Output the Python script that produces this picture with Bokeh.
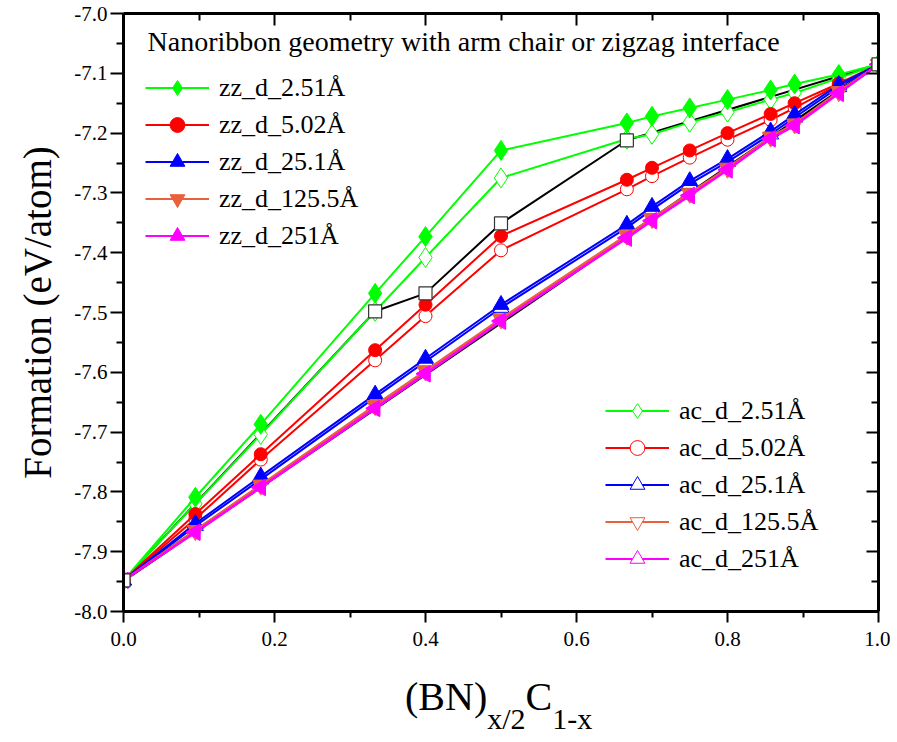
import numpy as np
from bokeh.plotting import figure
from bokeh.layouts import column
from bokeh.models import Range1d, LinearAxis, Legend, LegendItem, Label, FixedTicker, PrintfTickFormatter, Div
from bokeh.embed import file_html
from bokeh.resources import INLINE

# ---------------- data ----------------
x_frac = [0.0, 0.0952, 0.1818, 0.3333, 0.4, 0.5, 0.6667, 0.7, 0.75, 0.8, 0.8571, 0.8889, 0.9474, 1.0]

zz_2_51 = [-7.948, -7.809, -7.687, -7.468, -7.373, -7.229, -7.183, -7.172, -7.158, -7.144, -7.128, -7.118, -7.102, -7.085]
zz_5_02 = [-7.948, -7.837, -7.737, -7.563, -7.487, -7.372, -7.278, -7.258, -7.229, -7.200, -7.168, -7.150, -7.117, -7.085]
zz_25_1 = [-7.948, -7.853, -7.774, -7.637, -7.577, -7.487, -7.353, -7.323, -7.280, -7.243, -7.197, -7.169, -7.119, -7.085]
zz_125_5 = [-7.948, -7.864, -7.788, -7.655, -7.597, -7.510, -7.370, -7.342, -7.300, -7.258, -7.206, -7.184, -7.130, -7.085]
zz_251 = [-7.948, -7.867, -7.792, -7.660, -7.602, -7.514, -7.375, -7.346, -7.304, -7.261, -7.209, -7.187, -7.133, -7.085]

ac_2_51 = [-7.948, -7.820, -7.704, -7.498, -7.408, -7.275, -7.210, -7.202, -7.182, -7.165, -7.144, -7.133, -7.108, -7.085]
ac_5_02 = [-7.948, -7.845, -7.746, -7.580, -7.506, -7.396, -7.294, -7.272, -7.241, -7.211, -7.178, -7.158, -7.119, -7.085]
ac_25_1 = [-7.948, -7.857, -7.779, -7.642, -7.582, -7.492, -7.358, -7.328, -7.285, -7.248, -7.202, -7.174, -7.123, -7.085]
ac_125_5 = [-7.948, -7.866, -7.790, -7.657, -7.599, -7.512, -7.372, -7.344, -7.302, -7.260, -7.208, -7.186, -7.132, -7.085]
ac_251 = [-7.948, -7.868, -7.793, -7.661, -7.603, -7.515, -7.376, -7.347, -7.305, -7.262, -7.210, -7.188, -7.134, -7.085]

linear_x = [0.0, 1.0]
linear_y = [-7.948, -7.085]

sq_x = [0.0, 0.3333, 0.4, 0.5, 0.6667, 1.0]
sq_y = [-7.948, -7.498, -7.468, -7.351, -7.212, -7.085]

zz_labels = ["zz_d_2.51Å", "zz_d_5.02Å", "zz_d_25.1Å", "zz_d_125.5Å", "zz_d_251Å"]
ac_labels = ["ac_d_2.51Å", "ac_d_5.02Å", "ac_d_25.1Å", "ac_d_125.5Å", "ac_d_251Å"]
x_ticks = [0.0, 0.2, 0.4, 0.6, 0.8, 1.0]
x_minor = [0.1, 0.3, 0.5, 0.7, 0.9]
y_ticks = [-8.0, -7.9, -7.8, -7.7, -7.6, -7.5, -7.4, -7.3, -7.2, -7.1, -7.0]
y_minor = [-7.95, -7.85, -7.75, -7.65, -7.55, -7.45, -7.35, -7.25, -7.15, -7.05]

zz_series = [zz_2_51, zz_5_02, zz_25_1, zz_125_5, zz_251]
ac_series = [ac_2_51, ac_5_02, ac_25_1, ac_125_5, ac_251]
colors = ["#00FF00", "#FF0000", "#0000FF", "#E8603C", "#FF00FF"]
markers = ["diamond", "circle", "triangle", "inverted_triangle", "triangle"]
angles = [0.0, 0.0, 0.0, 0.0, np.pi / 2]
sizes = [20, 13, 16, 16, 16]

SERIF = "Liberation Serif"

p = figure(frame_width=755, frame_height=598,
           x_range=Range1d(0, 1), y_range=Range1d(-8, -7),
           output_backend="svg", toolbar_location=None,
           min_border_left=123, min_border_right=12, min_border_top=13, min_border_bottom=52)
p.xgrid.visible = False
p.ygrid.visible = False
p.outline_line_color = None
p.background_fill_color = "white"
p.border_fill_color = "white"

# thick linear reference
p.line(linear_x, linear_y, line_color="black", line_width=3.5)
# thin black connecting line
p.line(sq_x, sq_y, line_color="black", line_width=2)

ac_items = []
for ys, c, m, a, s, lab in zip(ac_series, colors, markers, angles, sizes, ac_labels):
    lr = p.line(x_frac, ys, line_color=c, line_width=2)
    sr = p.scatter(x_frac, ys, marker=m, angle=a, size=s, line_color=c, line_width=1, fill_color="white")
    ac_items.append(LegendItem(label=lab, renderers=[lr, sr]))

zz_items = []
for ys, c, m, a, s, lab in zip(zz_series, colors, markers, angles, sizes, zz_labels):
    lr = p.line(x_frac, ys, line_color=c, line_width=2)
    sr = p.scatter(x_frac, ys, marker=m, angle=a, size=s, line_color=c, fill_color=c)
    zz_items.append(LegendItem(label=lab, renderers=[lr, sr]))

p.scatter(sq_x, sq_y, marker="square", size=13, line_color="#333333", line_width=1.2, fill_color="white")

def style_legend(leg):
    leg.border_line_color = None
    leg.background_fill_alpha = 0
    leg.padding = 0
    leg.margin = 0
    leg.spacing = 0
    leg.glyph_width = 64
    leg.glyph_height = 37
    leg.label_height = 37
    leg.label_standoff = 10
    leg.label_text_font = SERIF
    leg.label_text_font_size = "26px"
    leg.label_text_color = "black"
    leg.label_text_baseline = "middle"

leg1 = Legend(items=zz_items, location=(22, 357))
style_legend(leg1)
leg2 = Legend(items=ac_items, location=(482, 34))
style_legend(leg2)
p.add_layout(leg1)
p.add_layout(leg2)

p.add_layout(Label(x=0.0318, y=-7.0467, text="Nanoribbon geometry with arm chair or zigzag interface",
                   text_font=SERIF, text_font_size="28px", text_color="black",
                   text_baseline="middle", text_align="left"))

# axes styling
def base_axis(ax):
    ax.axis_line_width = 3
    ax.axis_line_color = "black"
    ax.major_tick_line_color = "black"
    ax.minor_tick_line_color = "black"
    ax.major_tick_line_width = 2
    ax.minor_tick_line_width = 2
    ax.major_label_text_font = SERIF
    ax.major_label_text_font_size = "21px"
    ax.major_label_text_color = "black"

xa = p.xaxis[0]
xa.ticker = FixedTicker(ticks=x_ticks, minor_ticks=x_minor)
xa.formatter = PrintfTickFormatter(format="%.1f")
base_axis(xa)
xa.major_tick_out = 11
xa.major_tick_in = 0
xa.minor_tick_out = 6
xa.minor_tick_in = 0
xa.major_label_standoff = 9

ya = p.yaxis[0]
ya.ticker = FixedTicker(ticks=y_ticks, minor_ticks=y_minor)
ya.formatter = PrintfTickFormatter(format="%.1f")
base_axis(ya)
ya.major_tick_out = 13
ya.major_tick_in = 0
ya.minor_tick_out = 7
ya.minor_tick_in = 0
ya.major_label_standoff = 3
ya.axis_label = "Formation (eV/atom)"
ya.axis_label_text_font = SERIF
ya.axis_label_text_font_size = "39px"
ya.axis_label_text_font_style = "normal"
ya.axis_label_text_color = "black"
ya.axis_label_standoff = 12

top = LinearAxis(ticker=FixedTicker(ticks=x_ticks, minor_ticks=x_minor))
right = LinearAxis(ticker=FixedTicker(ticks=y_ticks, minor_ticks=y_minor))
for ax in (top, right):
    base_axis(ax)
    ax.major_tick_in = 12
    ax.major_tick_out = 0
    ax.minor_tick_in = 7
    ax.minor_tick_out = 0
    ax.major_label_text_font_size = "1px"
    ax.major_label_text_color = None
    ax.major_label_standoff = 0
p.add_layout(top, "above")
p.add_layout(right, "right")

# x-axis title with subscripts (HTML text below the figure)
x_title = Div(
    text=('<div style="padding-left:405px; padding-top:14px; white-space:nowrap; line-height:1;">'
          '(BN)<span style="font-size:30px; vertical-align:-19px;">x/2</span>'
          'C<span style="font-size:30px; vertical-align:-19px;">1-x</span></div>'),
    width=890, height=74, margin=(0, 0, 0, 0),
    styles={"font-family": SERIF, "font-size": "40px", "color": "black"})

layout = column(p, x_title, spacing=0)
open("out.html", "w").write(file_html(layout, INLINE))
